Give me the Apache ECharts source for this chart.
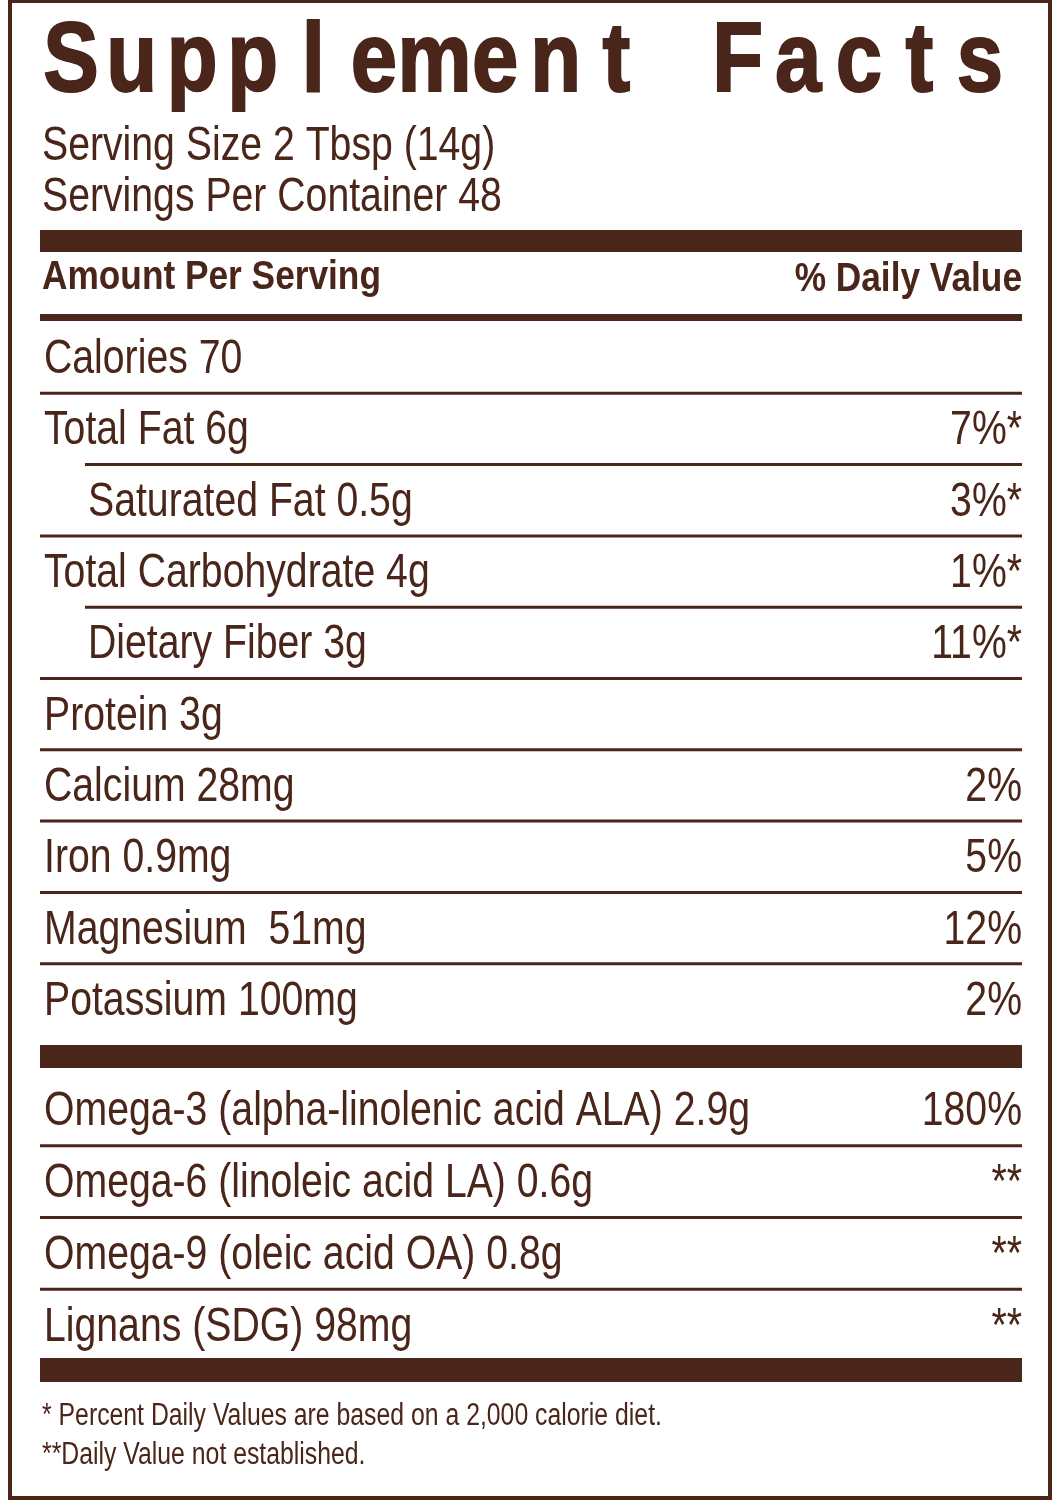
<html>
<head>
  <script src="https://cdnjs.cloudflare.com/ajax/libs/echarts/6.0.0/echarts.min.js"></script>
</head>
<body style="margin:0;background:#fff">
  <div id="main" style="width: 1060px;height:1500px;"></div>
  <script>
    var title = 'Supplement Facts';
    var servingLines = ['Serving Size 2 Tbsp (14g)', 'Servings Per Container 48'];
    var headerLeft = 'Amount Per Serving';
    var headerRight = '% Daily Value';
    var mainLabels = ['Calories 70', 'Total Fat 6g', 'Saturated Fat 0.5g', 'Total Carbohydrate 4g', 'Dietary Fiber 3g',
      'Protein 3g', 'Calcium 28mg', 'Iron 0.9mg', 'Magnesium  51mg', 'Potassium 100mg'];
    var mainDV = ['', '7%*', '3%*', '1%*', '11%*', '', '2%', '5%', '12%', '2%'];
    var mainIndent = [0, 0, 1, 0, 1, 0, 0, 0, 0, 0];
    var fatLabels = ['Omega-3 (alpha-linolenic acid ALA) 2.9g', 'Omega-6 (linoleic acid LA) 0.6g',
      'Omega-9 (oleic acid OA) 0.8g', 'Lignans (SDG) 98mg'];
    var fatDV = ['180%', '**', '**', '**'];
    var fatIndent = [0, 0, 0, 0];
    var footnotes = ['* Percent Daily Values are based on a 2,000 calorie diet.', '**Daily Value not established.'];

    var brown = '#4a2519';
    var font = '"Liberation Sans", Arial, sans-serif';
    var narrow = 0.8;
    var myChart = echarts.init(document.getElementById('main'));

    function txt(text, x, y, size, opts) {
      opts = opts || {};
      return {
        type: 'text', x: x, y: y, scaleX: opts.scale || narrow,
        style: { text: text, x: 0, y: 0, fill: brown, font: (opts.bold ? 'bold ' : '') + size + 'px ' + font,
          align: opts.align || 'left', verticalAlign: 'middle' }
      };
    }

    function rowSeries(idx, labels, dv, indent) {
      return {
        type: 'custom',
        xAxisIndex: idx,
        yAxisIndex: idx,
        data: labels.map((l, i) => [0, i]),
        renderItem: function (params, api) {
          var i = api.value(1);
          var c = api.coord([0, i]);
          var r = api.coord([1, i]);
          var band = api.size([0, 1])[1];
          var children = [
            txt(labels[i], c[0] + 4 + indent[i] * 44, c[1] + 2, 49),
            txt(dv[i], r[0], c[1] + 2, 49, { align: 'right' })
          ];
          if (i < labels.length - 1) {
            var y = c[1] + band / 2;
            children.push({
              type: 'line',
              shape: { x1: c[0] + indent[i + 1] * 45, y1: y, x2: r[0], y2: y },
              style: { stroke: brown, lineWidth: 3 }
            });
          }
          return { type: 'group', children: children };
        }
      };
    }

    var graphics = [
      { type: 'rect', shape: { x: 10, y: 1, width: 1040, height: 1497 }, style: { fill: 'none', stroke: brown, lineWidth: 4 } },
      { type: 'rect', shape: { x: 40, y: 230, width: 982, height: 22 }, style: { fill: brown } },
      { type: 'rect', shape: { x: 40, y: 314, width: 982, height: 7 }, style: { fill: brown } },
      { type: 'rect', shape: { x: 40, y: 1045, width: 982, height: 23 }, style: { fill: brown } },
      { type: 'rect', shape: { x: 40, y: 1358, width: 982, height: 24 }, style: { fill: brown } },
      txt(servingLines[0], 42, 146, 49),
      txt(servingLines[1], 42, 197, 49),
      txt(headerLeft, 42, 278, 41, { bold: true, scale: 0.86 }),
      txt(headerRight, 1022, 280, 41, { bold: true, scale: 0.86, align: 'right' }),
      txt(footnotes[0], 42, 1416, 31),
      txt(footnotes[1], 42, 1455, 31)
    ];
    title.split('').forEach(function (ch, i) {
      graphics.push({
        type: 'text', x: 71 + i * 60.6, y: 64, scaleX: 0.85,
        style: { text: ch, x: 0, y: 0, fill: brown, font: 'bold 98px "Liberation Sans", Arial, sans-serif',
          align: 'center', verticalAlign: 'middle', stroke: brown, lineWidth: 2 }
      });
    });

    var option = {
      animation: false,
      grid: [
        { left: 40, right: 38, top: 322, height: 713 },
        { left: 40, right: 38, top: 1074, height: 287 }
      ],
      xAxis: [
        { type: 'value', min: 0, max: 1, show: false, gridIndex: 0 },
        { type: 'value', min: 0, max: 1, show: false, gridIndex: 1 }
      ],
      yAxis: [
        { type: 'category', inverse: true, data: mainLabels, show: false, gridIndex: 0 },
        { type: 'category', inverse: true, data: fatLabels, show: false, gridIndex: 1 }
      ],
      graphic: graphics,
      series: [rowSeries(0, mainLabels, mainDV, mainIndent), rowSeries(1, fatLabels, fatDV, fatIndent)]
    };
    myChart.setOption(option);
  </script>
</body>
</html>
